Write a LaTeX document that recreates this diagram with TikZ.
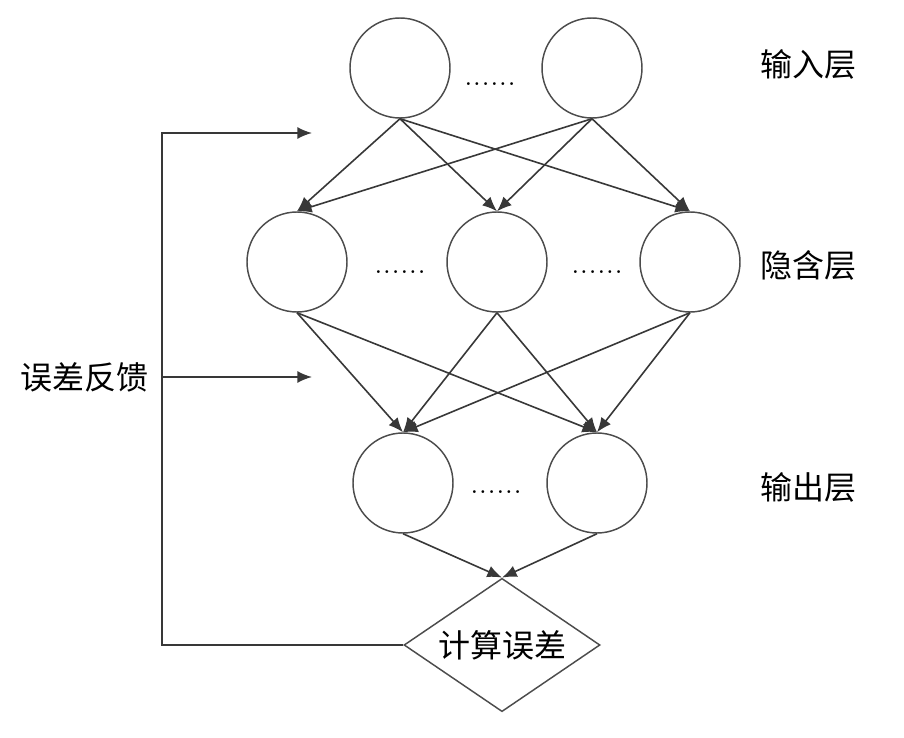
\documentclass[tikz,border=0pt]{standalone}
\usepackage{fontspec}
\newfontfamily\cjk{Noto Sans CJK SC}
\usetikzlibrary{positioning,shapes.geometric,arrows.meta}
\tikzset{
  neuron/.style={
    draw=black!70, circle, minimum size=75pt, inner sep=0mm, line width=1.1pt
  },
  calc/.style={
    draw=black!70, diamond, aspect=1.46, minimum width=147pt, minimum height=100pt,
    inner sep=0mm, line width=1.1pt, font=\cjk\fontsize{24}{28}\selectfont
  },
  layer/.style={font=\cjk\fontsize{24}{28}\selectfont},
  dots/.style={font=\fontsize{26}{30}\selectfont, inner sep=0mm},
  link/.style={-{Latex[length=11pt,width=9pt]}, line width=1.2pt, draw=black!78}
}

\begin{document}
\begin{tikzpicture}[x=0.75pt, y=-0.75pt]
   \useasboundingbox (0,0) rectangle (904,738);

   % input layer
   \node[neuron] (i1) at (400, 68) {};
   \node[neuron] (i2) at (592, 68) {};
   \node[dots] (di) at (490, 84) {......};
   \node[layer] (li) at (808, 64) {输入层};

   % hidden layer
   \node[neuron] (h1) at (297, 262) {};
   \node[neuron] (h2) at (497, 262) {};
   \node[neuron] (h3) at (690, 262) {};
   \node[dots] (dh1) at (400, 272) {......};
   \node[dots] (dh2) at (597, 272) {......};
   \node[layer] (lh) at (808, 265) {隐含层};

   % output layer
   \node[neuron] (o1) at (403, 483) {};
   \node[neuron] (o2) at (597, 483) {};
   \node[dots] (do) at (496, 492) {......};
   \node[layer] (lo) at (808, 487) {输出层};

   \node[calc] (err) at (502, 645) {计算误差};
   \node[layer] (fb) at (85, 377) {误差反馈};

   \foreach \a in {i1,i2}
     \foreach \b in {h1,h2,h3}
       \draw[link] (\a.south) -- (\b.north);
   \foreach \a in {h1,h2,h3}
     \foreach \b in {o1,o2}
       \draw[link] (\a.south) -- (\b.north);
   \draw[link] (o1.south) -- (err.north);
   \draw[link] (o2.south) -- (err.north);

   % feedback
   \coordinate (c1) at (162, 645);
   \coordinate (c2) at (162, 133);
   \coordinate (c3) at (312, 133);
   \coordinate (c4) at (162, 377);
   \coordinate (c5) at (312, 377);
   \draw[link] (err.west) -- (c1) -- (c2) -- (c3);
   \draw[link] (c4) -- (c5);
\end{tikzpicture}
\end{document}
